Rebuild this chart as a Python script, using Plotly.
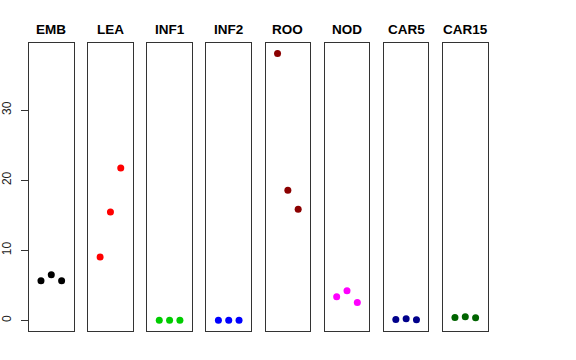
import plotly.graph_objects as go

categories = ["EMB", "LEA", "INF1", "INF2", "ROO", "NOD", "CAR5", "CAR15"]
values = [
    [5.66, 6.52, 5.66],
    [9.04, 15.47, 21.76],
    [0.02, 0.02, 0.02],
    [0.02, 0.02, 0.02],
    [38.09, 18.57, 15.86],
    [3.37, 4.23, 2.57],
    [0.14, 0.23, 0.09],
    [0.43, 0.52, 0.38],
]
colors = ["#000000", "#FF0000", "#00CD00", "#0000FF", "#8B0000", "#FF00FF", "#00008B", "#006400"]
y_ticks = [0, 10, 20, 30]
replicates = [1, 2, 3]

W, H = 576, 360
allv = [v for vs in values for v in vs]
ymin, ymax = min(allv), max(allv)
d = ymax - ymin
yr = [ymin - 0.04 * d, ymax + 0.04 * d]
xr = [0 - 0.04 * 4, 4 + 0.04 * 4]

fig = go.Figure()
left0, step, pw = 29.0, 59.14, 44.6
top_px, bot_px = 42.7, 331.0
font = "Liberation Sans, Arial, Helvetica, sans-serif"

layout = dict(
    template="none",
    width=W, height=H, autosize=False,
    margin=dict(l=0, r=0, t=0, b=0, pad=0),
    paper_bgcolor="white", plot_bgcolor="white",
    showlegend=False,
    font=dict(family=font, size=12, color="black"),
    annotations=[],
)

for i, (cat, vals, col) in enumerate(zip(categories, values, colors)):
    n = "" if i == 0 else str(i + 1)
    x0 = left0 + step * i
    x1 = x0 + pw
    fig.add_trace(go.Scatter(
        x=replicates, y=vals, mode="markers",
        marker=dict(color=col, size=7, line=dict(width=0)),
        xaxis="x" + n, yaxis="y" + n, hoverinfo="skip",
    ))
    layout["xaxis" + n] = dict(
        domain=[x0 / W, x1 / W], range=xr, anchor="y" + n, automargin=False,
        showgrid=False, zeroline=False, showticklabels=False, ticks="",
        showline=True, mirror=True, linecolor="#333333", linewidth=1,
    )
    yax = dict(
        domain=[1 - bot_px / H, 1 - top_px / H], range=yr, anchor="x" + n,
        automargin=False,
        showgrid=False, zeroline=False,
        showline=True, mirror=True, linecolor="#333333", linewidth=1,
    )
    if i == 0:
        yax.update(tickvals=y_ticks, ticks="outside", ticklen=7, tickcolor="#333333",
                   tickangle=-90, ticklabelstandoff=5,
                   tickfont=dict(size=12, color="#222222"))
    else:
        yax.update(showticklabels=False, ticks="")
    layout["yaxis" + n] = yax
    layout["annotations"].append(dict(
        text="<b>%s</b>" % cat, x=(x0 + x1) / 2 / W, y=1 - 29.3 / H,
        xref="paper", yref="paper", showarrow=False,
        xanchor="center", yanchor="middle",
        font=dict(size=13.5, color="black", family=font),
    ))

fig.update_layout(**layout)
fig.write_html("out.html", config={"displayModeBar": False, "staticPlot": True},
               post_script="document.body.style.margin='0';")
